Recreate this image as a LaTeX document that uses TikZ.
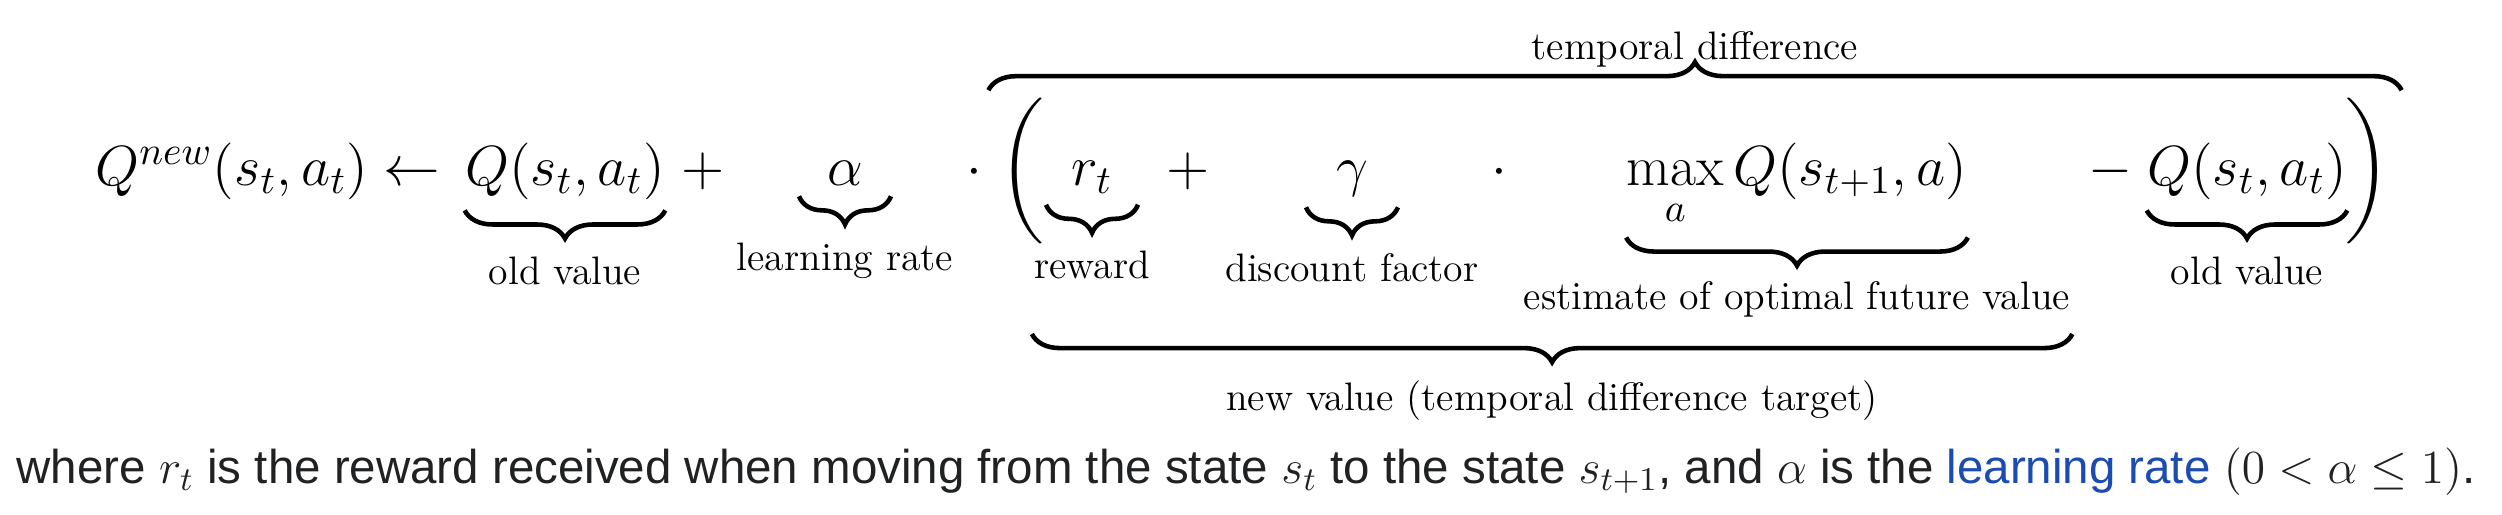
\RequirePackage{fix-cm}
\documentclass[tikz,border=0pt]{standalone}
\usepackage{amsmath}
\usepackage{fontspec}
\newfontfamily\wikisans{Liberation Sans}
\usetikzlibrary{decorations.pathreplacing,positioning,calc}
\definecolor{wikitext}{HTML}{202122}
\definecolor{wikilink}{RGB}{28,76,178}

\begin{document}
\begin{tikzpicture}[x=0.01cm, y=-0.01cm,
  term/.style={inner sep=0pt, anchor=base, font=\fontsize{16.1}{19.3}\selectfont},
  lbl/.style={inner sep=0pt, font=\fontsize{11.3}{13.6}\selectfont},
  ubrace/.style={decorate, decoration={brace, mirror, amplitude=8pt}, line width=1.3pt},
  obrace/.style={decorate, decoration={brace, amplitude=8pt}, line width=1.3pt}
]
\useasboundingbox (0,0) rectangle (2502,514);
% -- update rule, one node per term
\node[term] (lhs) at (268,185) {$Q^{new}(s_t,a_t)\leftarrow$};
\node[term] (oldq) at (565,185) {$Q(s_t,a_t)$};
\node[term] (plusa) at (703,185) {$+$};
\node[term] (alpha) at (845,185) {$\alpha$};
\node[term] (dota) at (974,185) {$\cdot$};
\node[term] (lpar) at (1022,185) {$\bigg($};
\node[term] (rew) at (1092,185) {$r_t$};
\node[term] (plusb) at (1188,185) {$+$};
\node[term] (disc) at (1352,185) {$\gamma$};
\node[term] (dotb) at (1499,185) {$\cdot$};
\node[term] (maxq) at (1797,185) {$\displaystyle\max_a Q(s_{t+1},a)$};
\node[term] (minus) at (2110,185) {$-$};
\node[term] (oldqb) at (2247,185) {$Q(s_t,a_t)$};
\node[term] (rpar) at (2368,185) {$\bigg)$};

% -- braces under single terms
\draw[ubrace] ([yshift=-3pt]oldq.south west) -- ([yshift=-3pt]oldq.south east)
  node[lbl, midway, below=12.5pt] (lold) {old value};
\draw[ubrace] ([xshift=-0.46cm,yshift=-3pt]alpha.south) -- ([xshift=0.46cm,yshift=-3pt]alpha.south)
  node[lbl, midway, below=12.5pt] (llr) {learning rate};
\draw[ubrace] ([xshift=-0.46cm,yshift=-3pt]rew.south) -- ([xshift=0.46cm,yshift=-3pt]rew.south)
  node[lbl, midway, below=12.5pt] (lrew) {reward};
\draw[ubrace] ([xshift=-0.46cm,yshift=-3pt]disc.south) -- ([xshift=0.46cm,yshift=-3pt]disc.south)
  node[lbl, midway, below=12.5pt] (ldisc) {discount factor};
\draw[ubrace] ([yshift=-2.5pt]maxq.south west) -- ([yshift=-2.5pt]maxq.south east)
  node[lbl, midway, below=12pt] (lest) {estimate of optimal future value};
\draw[ubrace] ([yshift=-3pt]oldqb.south west) -- ([yshift=-3pt]oldqb.south east)
  node[lbl, midway, below=12.5pt] (loldb) {old value};

% -- target and temporal difference
\draw[ubrace] ([yshift=-4pt]lrew.west |- lest.south) -- ([yshift=-4pt]lest.south east)
  node[lbl, midway, below=12.5pt] (lnew) {new value (temporal difference target)};
\draw[obrace] ([xshift=-3pt,yshift=2pt]lpar.north west) -- ([xshift=3pt,yshift=2pt]rpar.north east)
  node[lbl, midway, above=6pt] (ltd) {temporal difference};

% -- explanation line
\node[anchor=base west, inner sep=0pt, text=wikitext, font=\wikisans\fontsize{13.5}{16}\selectfont] (expl) at (16,483)
  {where $r_t$ is the reward received when moving from the state $s_t$ to the state $s_{t+1}$, and $\alpha$ is the \textcolor{wikilink}{learning rate} $(0<\alpha\leq 1)$.};
\end{tikzpicture}
\end{document}
